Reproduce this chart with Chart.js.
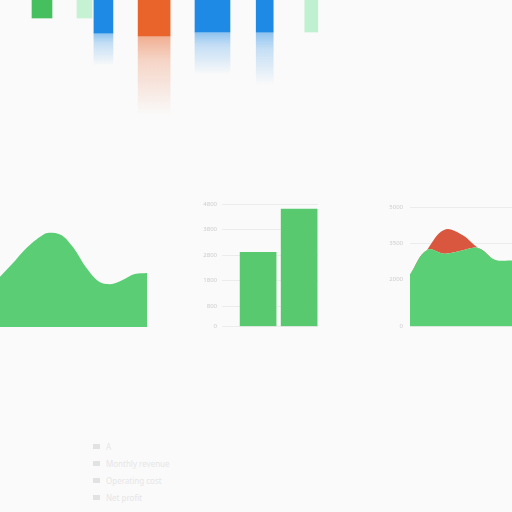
<!DOCTYPE html>
<html>
<head>
<meta charset="utf-8">
<script src="https://cdn.jsdelivr.net/npm/chart.js@4/dist/chart.umd.min.js"></script>
<style>
  body { margin: 0; background: #fafafa; font-family: "Noto Sans", sans-serif; }
  #wrap { position: relative; width: 512px; height: 512px; overflow: hidden; }
  .box { position: absolute; }
  .legend { position: absolute; left: 93px; top: 438px; }
  .legend div { height: 17px; display: flex; align-items: center; font-size: 8px; color: #e6e6e6; }
  .legend span { display: inline-block; width: 7px; height: 5px; background: #e2e2e2; margin-right: 6px; }
</style>
</head>
<body>
<div id="wrap">
  <div class="box" style="left:0;top:0;width:512px;height:130px"><canvas id="top"></canvas></div>
  <div class="box" style="left:0;top:220px;width:147px;height:107px"><canvas id="area1"></canvas></div>
  <div class="box" style="left:195px;top:195px;width:130px;height:140px"><canvas id="bars"></canvas></div>
  <div class="box" style="left:380px;top:197px;width:132px;height:140px"><canvas id="area2"></canvas></div>
  <div class="legend" id="legend"></div>
</div>
<script>
// top strip: bars hanging from the top edge
const topX = [8.2, 16.5, 20.2, 30.1, 41.5, 51.7, 60.8];
const topSolid = [18, 18, 33, 36, 32, 32, 32];
const topFade = [18, 18, 66, 115, 75, 85, 32];
const topColors = ['#46c05e', '#c6f1d2', '#1f8ae6', '#e8642a', '#1f8ae6', '#1f8ae6', '#bff0cf'];
const topWidths = [20, 15, 19, 32, 35, 17, 13];

// left area
const area1Labels = ['1', '2', '3', '4', '5', '6', '7', '8', '9', '10', '11', '12', '13'];
const area1Values = [47, 59, 72, 82, 88, 86, 74, 56, 43, 40, 44, 49.5, 50.5];

// middle bars
const barX = [1, 2];
const barValues = [2900, 4600];
const barTicks = [0, 800, 1800, 2800, 3800, 4800];

// right stacked area
const area2Labels = ['1', '2', '3', '4', '5', '6', '7'];
const area2Green = [2190, 3220, 3060, 3180, 3300, 2810, 2770];
const area2Red = [0, 0, 1000, 700, 0, 0, 0];
const area2Ticks = [0, 2000, 3500, 5000];

const legendItems = ['A', 'Monthly revenue', 'Operating cost', 'Net profit'];

Chart.defaults.animation = false;
Chart.defaults.font.family = '"Noto Sans", sans-serif';

function hexA(hex, a) {
    const n = parseInt(hex.slice(1), 16);
    return `rgba(${n >> 16},${(n >> 8) & 255},${n & 255},${a})`;
}

// top chart
const topSets = [];
topX.forEach((x, i) => {
    topSets.push({
        data: [{ x: x, y: topSolid[i] }],
        backgroundColor: topColors[i],
        barThickness: topWidths[i],
        grouped: false
    });
    if (topFade[i] > topSolid[i]) {
        topSets.push({
            data: [{ x: x, y: [topSolid[i], topFade[i]] }],
            barThickness: topWidths[i],
            grouped: false,
            backgroundColor: function (c) {
                const chart = c.chart;
                if (!chart.chartArea) return topColors[i];
                const y = chart.scales.y;
                const g = chart.ctx.createLinearGradient(0, y.getPixelForValue(topSolid[i]), 0, y.getPixelForValue(topFade[i]));
                g.addColorStop(0, hexA(topColors[i], 0.5));
                g.addColorStop(0.3, hexA(topColors[i], 0.25));
                g.addColorStop(1, hexA(topColors[i], 0));
                return g;
            }
        });
    }
});

new Chart(document.getElementById('top'), {
    type: 'bar',
    data: { datasets: topSets },
    options: {
        responsive: true,
        maintainAspectRatio: false,
        plugins: { legend: { display: false }, tooltip: { enabled: false } },
        scales: {
            x: { type: 'linear', min: 0, max: 100, offset: false, display: false },
            y: { min: 0, max: 130, reverse: true, display: false }
        }
    }
});

// left area chart
new Chart(document.getElementById('area1'), {
    type: 'line',
    data: {
        labels: area1Labels,
        datasets: [{
            data: area1Values,
            fill: 'origin',
            backgroundColor: '#5bce75',
            borderWidth: 0,
            pointRadius: 0,
            cubicInterpolationMode: 'monotone'
        }]
    },
    options: {
        responsive: true,
        maintainAspectRatio: false,
        plugins: { legend: { display: false }, tooltip: { enabled: false } },
        scales: {
            x: { display: false },
            y: { min: 0, max: 100, display: false }
        }
    }
});

// middle bar chart
new Chart(document.getElementById('bars'), {
    type: 'bar',
    data: {
        datasets: [{
            data: barX.map((x, i) => ({ x: x, y: barValues[i] })),
            backgroundColor: '#58c96e',
            barThickness: 36
        }]
    },
    options: {
        responsive: true,
        maintainAspectRatio: false,
        layout: { padding: { top: 9, right: 7, bottom: 8, left: 0 } },
        plugins: { legend: { display: false }, tooltip: { enabled: false } },
        scales: {
            x: { type: 'linear', min: 0.12, max: 2.46, offset: false, display: false },
            y: {
                min: 0,
                max: 4800,
                afterBuildTicks: (axis) => { axis.ticks = barTicks.map(v => ({ value: v })); },
                afterFit: (axis) => { axis.width = 27; },
                border: { display: false },
                grid: { color: '#ececec', drawTicks: false },
                ticks: { color: '#cdcdcd', font: { size: 6 }, padding: 5, callback: (v) => String(v) }
            }
        }
    }
});

// right stacked area chart
new Chart(document.getElementById('area2'), {
    type: 'line',
    data: {
        labels: area2Labels,
        datasets: [
            { data: area2Green, fill: 'origin', backgroundColor: '#5bcf75', borderWidth: 0, pointRadius: 0, tension: 0.4 },
            { data: area2Red, fill: '-1', backgroundColor: '#d9563f', borderWidth: 0, pointRadius: 0, tension: 0.4 }
        ]
    },
    options: {
        responsive: true,
        maintainAspectRatio: false,
        layout: { padding: { top: 8, right: 0, bottom: 3, left: 0 } },
        plugins: { legend: { display: false }, tooltip: { enabled: false } },
        scales: {
            x: { display: false },
            y: {
                stacked: true,
                min: 0,
                max: 5000,
                afterBuildTicks: (axis) => { axis.ticks = area2Ticks.map(v => ({ value: v })); },
                afterFit: (axis) => { axis.width = 30; },
                border: { display: false },
                grid: { color: '#ececec', drawTicks: false },
                ticks: { color: '#cdcdcd', font: { size: 6 }, padding: 7, callback: (v) => String(v) }
            }
        }
    }
});

// blurry legend list
const legend = document.getElementById('legend');
legendItems.forEach(t => {
    const row = document.createElement('div');
    row.innerHTML = `<span></span>${t}`;
    legend.appendChild(row);
});
</script>
</body>
</html>
